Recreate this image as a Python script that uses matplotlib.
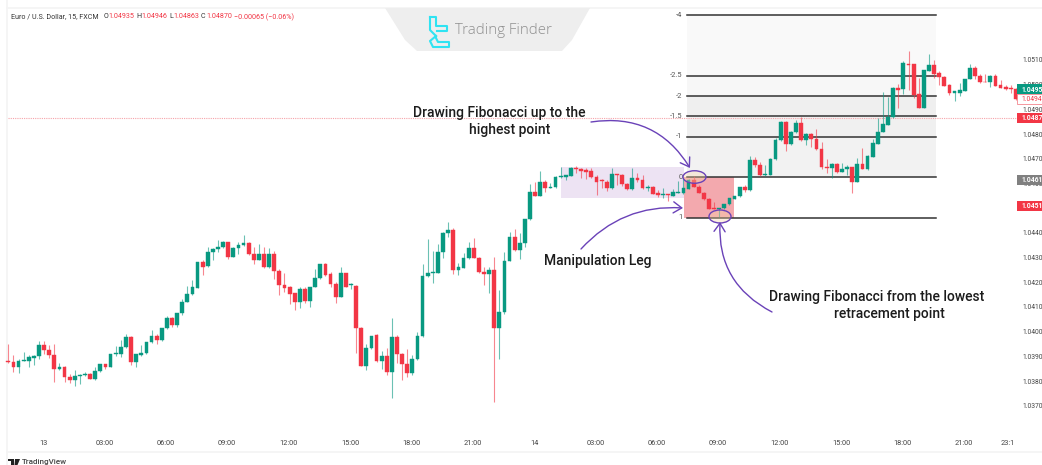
import matplotlib
matplotlib.use("Agg")
import matplotlib.pyplot as plt
from matplotlib.patches import Rectangle, Ellipse, FancyArrowPatch, Polygon
from matplotlib.transforms import blended_transform_factory

opens = [1.03886,1.03882,1.03862,1.03884,1.03885,1.03898,1.03907,1.03948,1.03931,1.03909,1.03853,1.03861,1.03819,1.03808,1.03823,1.03830,1.03832,1.03811,1.03844,1.03871,
1.03859,1.03912,1.03913,1.03942,1.03984,1.03882,1.03909,1.03916,1.03962,1.03988,1.03969,1.04019,1.04060,1.04029,1.04078,1.04125,1.04156,1.04181,1.04285,1.04268,
1.04325,1.04339,1.04345,1.04368,1.04306,1.04343,1.04353,1.04361,1.04318,1.04295,1.04317,1.04264,1.04318,1.04248,1.04194,1.04183,1.04159,1.04124,1.04178,1.04129,
1.04186,1.04222,1.04278,1.04236,1.04198,1.04145,1.04240,1.04191,1.04190,1.04020,1.03866,1.03938,1.03989,1.03885,1.03907,1.03839,1.03984,1.03915,1.03873,1.03835,
1.03892,1.03986,1.04228,1.04243,1.04243,1.04325,1.04402,1.04415,1.04253,1.04263,1.04302,1.04344,1.04303,1.04247,1.04237,1.04253,1.04020,1.04082,1.04291,1.04386,
1.04336,1.04362,1.04460,1.04571,1.04554,1.04611,1.04587,1.04589,1.04630,1.04631,1.04635,1.04668,1.04662,1.04658,1.04653,1.04630,1.04619,1.04610,1.04584,1.04641,
1.04638,1.04603,1.04580,1.04626,1.04619,1.04585,1.04591,1.04564,1.04557,1.04560,1.04554,1.04566,1.04566,1.04583,1.04619,1.04591,1.04567,1.04542,1.04504,1.04501,
1.04506,1.04520,1.04543,1.04552,1.04590,1.04578,1.04700,1.04677,1.04639,1.04640,1.04702,1.04781,1.04852,1.04764,1.04812,1.04848,1.04781,1.04805,1.04784,1.04745,
1.04672,1.04667,1.04684,1.04651,1.04663,1.04672,1.04612,1.04683,1.04663,1.04713,1.04765,1.04814,1.04842,1.04873,1.04990,1.04985,1.05089,1.05087,1.04965,1.04910,
1.05061,1.05084,1.05050,1.05034,1.05001,1.04972,1.04970,1.04980,1.05028,1.05071,1.05040,1.05015,1.05013,1.05041,1.05001,1.04994,1.04990,1.04986]
highs = [1.03956,1.03909,1.03892,1.03923,1.03909,1.03909,1.03966,1.03966,1.03950,1.03952,1.03878,1.03866,1.03832,1.03849,1.03832,1.03839,1.03838,1.03862,1.03871,1.03873,
1.03913,1.03947,1.03970,1.03993,1.03988,1.03915,1.03950,1.03963,1.04011,1.03994,1.04019,1.04067,1.04065,1.04081,1.04136,1.04189,1.04213,1.04285,1.04294,1.04348,
1.04341,1.04375,1.04372,1.04368,1.04348,1.04368,1.04395,1.04368,1.04345,1.04359,1.04345,1.04341,1.04332,1.04258,1.04240,1.04189,1.04162,1.04186,1.04183,1.04186,
1.04258,1.04278,1.04281,1.04244,1.04206,1.04264,1.04240,1.04203,1.04193,1.04021,1.03952,1.03986,1.03996,1.03927,1.03936,1.04059,1.03990,1.03919,1.03932,1.03909,
1.04004,1.04278,1.04378,1.04332,1.04359,1.04409,1.04449,1.04422,1.04281,1.04324,1.04368,1.04382,1.04305,1.04267,1.04267,1.04307,1.04172,1.04328,1.04406,1.04418,
1.04402,1.04461,1.04600,1.04611,1.04654,1.04618,1.04604,1.04634,1.04669,1.04638,1.04672,1.04676,1.04668,1.04668,1.04668,1.04638,1.04622,1.04620,1.04665,1.04641,
1.04641,1.04607,1.04665,1.04645,1.04637,1.04597,1.04595,1.04577,1.04584,1.04562,1.04581,1.04614,1.04625,1.04623,1.04636,1.04598,1.04571,1.04544,1.04527,1.04506,
1.04521,1.04546,1.04554,1.04591,1.04598,1.04716,1.04710,1.04693,1.04679,1.04706,1.04787,1.04855,1.04857,1.04818,1.04862,1.04872,1.04810,1.04810,1.04825,1.04773,
1.04702,1.04688,1.04686,1.04686,1.04679,1.04672,1.04706,1.04747,1.04719,1.04783,1.04868,1.04976,1.04956,1.04994,1.05006,1.05100,1.05142,1.05087,1.05030,1.05062,
1.05127,1.05104,1.05061,1.05040,1.05007,1.04980,1.05010,1.05029,1.05088,1.05078,1.05048,1.05048,1.05045,1.05046,1.05024,1.05003,1.05003,1.04990]
lows = [1.03878,1.03842,1.03835,1.03884,1.03859,1.03869,1.03892,1.03913,1.03898,1.03801,1.03849,1.03801,1.03795,1.03785,1.03792,1.03824,1.03811,1.03808,1.03842,1.03853,
1.03859,1.03907,1.03903,1.03939,1.03869,1.03862,1.03907,1.03913,1.03959,1.03956,1.03965,1.04016,1.04024,1.04024,1.04071,1.04123,1.04154,1.04181,1.04232,1.04267,
1.04294,1.04325,1.04343,1.04298,1.04305,1.04318,1.04352,1.04314,1.04278,1.04294,1.04260,1.04260,1.04216,1.04152,1.04166,1.04116,1.04091,1.04101,1.04121,1.04105,
1.04183,1.04217,1.04231,1.04183,1.04121,1.04145,1.04183,1.04175,1.03916,1.03865,1.03849,1.03934,1.03880,1.03853,1.03828,1.03736,1.03876,1.03808,1.03822,1.03828,
1.03889,1.03984,1.04226,1.04202,1.04240,1.04301,1.04386,1.04236,1.04235,1.04260,1.04299,1.04301,1.04243,1.04193,1.04162,1.03718,1.03892,1.04075,1.04289,1.04332,
1.04297,1.04345,1.04456,1.04553,1.04553,1.04571,1.04587,1.04587,1.04627,1.04618,1.04634,1.04645,1.04625,1.04622,1.04625,1.04557,1.04587,1.04575,1.04581,1.04597,
1.04595,1.04577,1.04577,1.04611,1.04581,1.04573,1.04560,1.04550,1.04546,1.04535,1.04552,1.04564,1.04562,1.04582,1.04589,1.04564,1.04538,1.04500,1.04500,1.04467,
1.04502,1.04517,1.04540,1.04548,1.04571,1.04575,1.04672,1.04635,1.04635,1.04637,1.04700,1.04778,1.04737,1.04758,1.04810,1.04778,1.04758,1.04753,1.04740,1.04663,
1.04645,1.04625,1.04645,1.04649,1.04639,1.04567,1.04609,1.04663,1.04660,1.04710,1.04764,1.04811,1.04841,1.04871,1.04909,1.04965,1.04983,1.04952,1.04909,1.04909,
1.05060,1.05030,1.05003,1.04997,1.04963,1.04940,1.04959,1.04978,1.05026,1.05026,1.05011,1.05013,1.04994,1.04997,1.04992,1.04983,1.04970,1.04943]
closes = [1.03880,1.03862,1.03886,1.03889,1.03900,1.03907,1.03948,1.03930,1.03908,1.03853,1.03861,1.03819,1.03808,1.03823,1.03830,1.03832,1.03813,1.03844,1.03871,1.03859,
1.03913,1.03916,1.03942,1.03984,1.03882,1.03915,1.03916,1.03963,1.03988,1.03969,1.04019,1.04060,1.04029,1.04081,1.04125,1.04156,1.04183,1.04285,1.04267,1.04326,
1.04339,1.04345,1.04367,1.04305,1.04344,1.04353,1.04361,1.04318,1.04295,1.04317,1.04264,1.04318,1.04248,1.04191,1.04181,1.04156,1.04124,1.04175,1.04129,1.04186,
1.04222,1.04278,1.04233,1.04195,1.04145,1.04240,1.04186,1.04195,1.04020,1.03866,1.03938,1.03986,1.03885,1.03907,1.03839,1.03984,1.03913,1.03873,1.03835,1.03892,
1.03986,1.04229,1.04241,1.04244,1.04325,1.04402,1.04415,1.04253,1.04266,1.04303,1.04344,1.04303,1.04245,1.04237,1.04253,1.04020,1.04083,1.04291,1.04386,1.04336,
1.04363,1.04461,1.04571,1.04554,1.04611,1.04587,1.04591,1.04631,1.04634,1.04637,1.04668,1.04664,1.04656,1.04650,1.04629,1.04611,1.04614,1.04584,1.04641,1.04638,
1.04600,1.04580,1.04626,1.04618,1.04584,1.04591,1.04562,1.04557,1.04560,1.04556,1.04568,1.04571,1.04584,1.04619,1.04591,1.04567,1.04540,1.04502,1.04501,1.04506,
1.04521,1.04544,1.04554,1.04591,1.04578,1.04700,1.04677,1.04640,1.04642,1.04704,1.04781,1.04852,1.04764,1.04814,1.04848,1.04781,1.04805,1.04785,1.04742,1.04672,
1.04667,1.04684,1.04652,1.04663,1.04672,1.04612,1.04683,1.04663,1.04715,1.04767,1.04814,1.04844,1.04875,1.04990,1.04984,1.05091,1.05084,1.04963,1.04911,1.05062,
1.05084,1.05048,1.05034,1.05000,1.04970,1.04978,1.04983,1.05029,1.05071,1.05040,1.05014,1.05013,1.05041,1.05000,1.04992,1.04987,1.04986,1.04947]

price_ticks = [1.0510,1.0500,1.0490,1.0480,1.0470,1.0460,1.0450,1.0440,1.0430,1.0420,1.0410,1.0400,1.0390,1.0380,1.0370]
time_labels = ["13","03:00","06:00","09:00","12:00","15:00","18:00","21:00","14","03:00","06:00","09:00","12:00","15:00","18:00","21:00","23:1"]
time_pos = [6.8,18.8,30.8,42.8,54.8,66.8,78.8,90.8,102.8,114.8,126.8,138.8,150.8,162.8,174.8,186.8,195.4]
fib_levels = [-4,-2.5,-2,-1.5,-1,0,1]
fib_names = ["-4","-2.5","-2","-1.5","-1","0","1"]
fib_band_colors = ["#f9f9f9","#f7f7f7","#efefef","#f0f0f0","#f2f2f2"]
fib_0_price = 1.04630
fib_1_price = 1.04466
fib_start = 132.6
fib_end = 181.3
current_price = 1.0487
zone_top = 1.04671
zone_bottom = 1.04545
flag_labels = ["1.0495", "1.0487", "1.0461", "1.0451"]
flag_colors = ["#089981", "#f23645", "#808080", "#f23645"]

GREEN, RED = "#089981", "#f23645"
W, H = 1042, 465
plt.rcParams["font.family"] = ["Roboto", "DejaVu Sans"]
fig = plt.figure(figsize=(W/100, H/100), dpi=100, facecolor="white")
ax = fig.add_axes([0, 0, 1, 1])
ax.set_xlim(-1.623, 202.1)
ax.set_ylim(1.03464, 1.05347)
ax.axis("off")
pix = fig.add_axes([0, 0, 1, 1], zorder=5)
pix.set_xlim(0, W); pix.set_ylim(H, 0); pix.axis("off"); pix.patch.set_alpha(0)

def fib_price(level):
    return fib_0_price + (fib_1_price - fib_0_price) * level

# pane frame
ax.axvline(-0.28, color="#f3f3f3", lw=1.2, zorder=0)
trans_y = blended_transform_factory(ax.transAxes, ax.transData)
pix.plot([7, 1042], [8, 8], color="#f4f4f4", lw=1.2, zorder=0)
pix.plot([7, 1042], [452, 452], color="#f4f4f4", lw=1.2, zorder=0)

# Fibonacci bands
for i, c in enumerate(fib_band_colors):
    ax.add_patch(Rectangle((fib_start, fib_price(fib_levels[i])), fib_end - fib_start,
                           fib_price(fib_levels[i+1]) - fib_price(fib_levels[i]), fc=c, ec="none", zorder=1))
# zones
ax.add_patch(Rectangle((108, zone_bottom), 24.2, zone_top - zone_bottom, fc="#ede3f3", ec="none", zorder=1))
ax.add_patch(Rectangle((132.1, fib_1_price), 9.8, fib_0_price - fib_1_price, fc="#f3a9ae", ec="none", zorder=1))

ax.axhline(current_price, xmin=0.008, xmax=0.976, color="#f6a3a9", lw=0.8, ls=(0, (1, 1)), zorder=2)

for lv, name in zip(fib_levels, fib_names):
    p = fib_price(lv)
    ax.plot([fib_start, fib_end], [p, p], color="#333333", lw=1.1, zorder=2)
    ax.text(fib_start - 0.8, p, name, ha="right", va="center", fontsize=5.4, color="#555555", zorder=6)

# candles
for k, (o, h, l, c) in enumerate(zip(opens, highs, lows, closes)):
    col = GREEN if c >= o else RED
    ax.vlines(k, l, h, color=col, lw=0.8, alpha=0.6, zorder=3)
    ax.bar(k, abs(c - o), bottom=min(o, c), width=0.74, color=col, ec=col, lw=0.3, zorder=4)

# right axis
for p in price_ticks:
    ax.text(1022/W, p, f"{p:.4f}", transform=trans_y, ha="left", va="center", fontsize=4.9, color="#444444", zorder=6)
for s, bg, yc in zip(flag_labels, flag_colors, [89.5, 118, 180, 206]):
    pix.add_patch(Rectangle((1017, yc - 5), 25, 10, fc=bg, ec="none", zorder=7))
    pix.text(1021, yc, s, ha="left", va="center", fontsize=4.9, color="white", zorder=8, fontweight="bold")
pix.add_patch(Rectangle((1017, 94.5), 24.5, 9.5, fc="white", ec="#f4868e", lw=0.6, zorder=7))
pix.text(1021, 99, "1.0494", ha="left", va="center", fontsize=4.9, color="#f23645", zorder=8)

# time axis
for pos, lab in zip(time_pos, time_labels):
    ax.text(pos, 0.0452, lab, transform=ax.get_xaxis_transform(), ha="center", va="center", fontsize=5.3, color="#444444")

# header
FS = 5.1
pix.text(11, 17, "Euro / U.S. Dollar, 15, FXCM", fontsize=FS, color="#333333", va="center")
for xt, s, col in [(104, "O", "#333333"), (108.5, "1.04935", RED), (136, "H", "#333333"), (141, "1.04946", RED),
                   (169, "L", "#333333"), (173, "1.04863", RED), (201, "C", "#333333"), (206, "1.04870", RED),
                   (234, "\u22120.00065 (\u22120.06%)", RED)]:
    pix.text(xt, 17, s, fontsize=FS, color=col, va="center")

# watermark badge
pix.add_patch(Polygon([(385, 8), (590, 8), (572, 40), (562, 51), (417, 51), (405, 40)], closed=True, fc="#eeeeee", ec="none", zorder=1))
pix.plot([430, 436, 436, 447, 447, 437, 437], [17, 17, 26, 26, 31, 31, 31], color="#2fe3f2", lw=1.5, zorder=2)
pix.plot([430, 430, 436], [17, 30, 36], color="#2fe3f2", lw=1.5, zorder=2)
pix.plot([436, 430, 433, 449, 449, 438, 436], [36, 41, 47, 47, 42, 42, 38], color="#2fe3f2", lw=1.5, zorder=2)
pix.text(455, 31, "Trading Finder", fontsize=10.8, color="#8f8f8f", va="center", family="Open Sans", fontweight="light", zorder=2)

# TradingView mark
pix.add_patch(Polygon([(8, 459), (14, 459), (14, 465), (11, 465), (11, 461), (8, 461)], fc="#222222", ec="none"))
pix.add_patch(Polygon([(15, 459), (20, 459), (17.5, 465), (14.5, 465)], fc="#222222", ec="none"))
pix.text(21.5, 462.3, "TradingView", fontsize=5.8, color="#444444", va="center", fontweight="medium")

# annotations
TXT = "#1c1c1c"
for s, cx, cy in [("Drawing Fibonacci up to the", 499, 113), ("highest point", 510, 130),
                  ("Manipulation Leg", 598, 261), ("Drawing Fibonacci from the lowest", 877, 297),
                  ("retracement point", 889, 314)]:
    pix.text(cx, cy, s, fontsize=10, fontweight="medium", color=TXT, ha="center", va="center", zorder=9)

PUR = "#6a42b8"
for (x0, y0, x1, y1, rad) in [(591, 122, 690, 168, -0.33), (581, 249, 683, 208, -0.24), (772, 312, 720, 222, -0.32)]:
    pix.add_patch(FancyArrowPatch((x0, y0), (x1, y1), connectionstyle=f"arc3,rad={rad}",
                                  arrowstyle="->,head_length=6,head_width=4", color=PUR, lw=1.0,
                                  shrinkA=0, shrinkB=0, zorder=9))
for cx, cy, wd, ht in [(694.5, 177, 23, 12.5), (720, 216.5, 22, 13)]:
    pix.add_patch(Ellipse((cx, cy), wd, ht, fc="#f7d6a8", alpha=0.35, ec="none", zorder=8))
    pix.add_patch(Ellipse((cx, cy), wd, ht, fc="none", ec=PUR, lw=1.0, zorder=9))

fig.savefig("out.png", dpi=100)
